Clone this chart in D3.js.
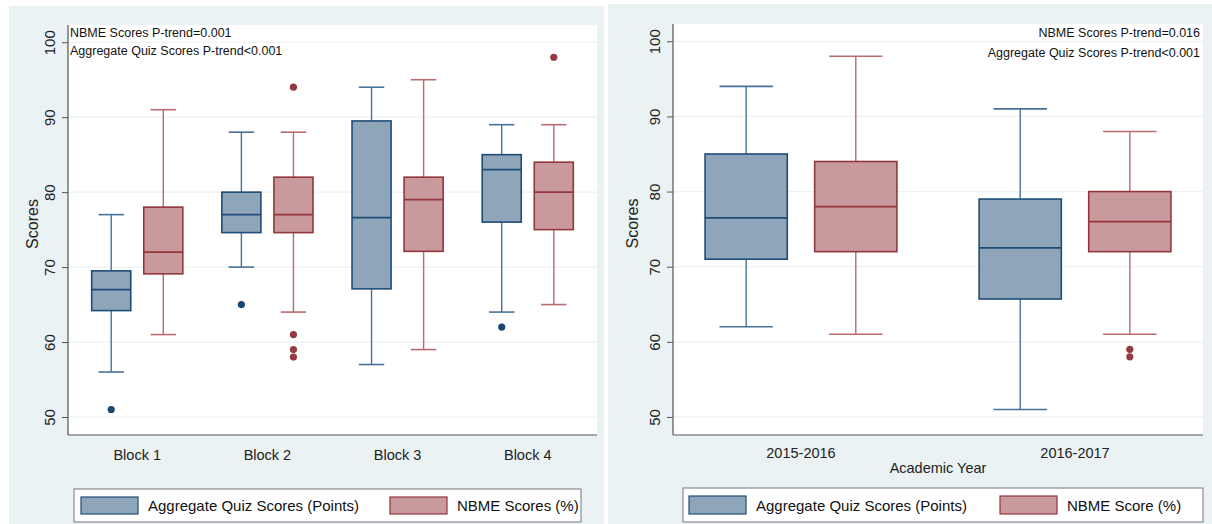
<!DOCTYPE html>
<html>
<head>
<meta charset="utf-8">
<script src="https://cdn.jsdelivr.net/npm/d3@7"></script>
<style>
  body { margin: 0; background: #ffffff; }
  svg { display: block; font-family: "Liberation Sans", Arial, sans-serif; }
</style>
</head>
<body>
<script>
// Box plot stats: [lower whisker, q1, median, q3, upper whisker]
var blocks = ["Block 1", "Block 2", "Block 3", "Block 4"];
var blockQuizStats = [[56, 64.2, 67, 69.5, 77], [70, 74.6, 77, 80, 88], [57, 67.1, 76.6, 89.5, 94], [64, 76, 83, 85, 89]];
var blockQuizOutliers = [[51], [65], [], [62]];
var blockNbmeStats = [[61, 69.1, 72, 78, 91], [64, 74.6, 77, 82, 88], [59, 72.1, 79, 82, 95], [65, 75, 80, 84, 89]];
var blockNbmeOutliers = [[], [94, 61, 59, 58], [], [98]];

var years = ["2015-2016", "2016-2017"];
var yearQuizStats = [[62, 71, 76.5, 85, 94], [51, 65.7, 72.5, 79, 91]];
var yearQuizOutliers = [[], []];
var yearNbmeStats = [[61, 72, 78, 84, 98], [61, 72, 76, 80, 88]];
var yearNbmeOutliers = [[], [59, 58]];

var yTicks = [50, 60, 70, 80, 90, 100];

var width = 1212, height = 524;
var bgColor = "#eaf2f3";
var blue = { fill: "#8ea5ba", stroke: "#1f4d78", whisker: "#49729a", dot: "#1a476f" };
var red = { fill: "#c99a9d", stroke: "#94363d", whisker: "#bb6a70", dot: "#953a40" };

var svg = d3.select("body").append("svg")
    .attr("width", width)
    .attr("height", height);

function drawPanel(p) {
  var g = svg.append("g");

  // panel background
  g.append("rect")
      .attr("x", p.bg[0]).attr("y", p.bg[1])
      .attr("width", p.bg[2]).attr("height", p.bg[3])
      .attr("fill", bgColor);

  // plot region
  g.append("rect")
      .attr("x", p.left).attr("y", p.top)
      .attr("width", p.right - p.left).attr("height", p.bottom - p.top)
      .attr("fill", "#ffffff");

  var y = d3.scaleLinear().domain([47.6, 102.3]).range([p.bottom, p.top]);
  var x = d3.scalePoint().domain(p.cats).range([p.left, p.right]).padding(p.pad);
  var step = x.step();
  var off = step * 0.2, bw = step * 0.3, cw = bw * 0.65;

  // grid lines
  g.selectAll(".grid").data(yTicks).enter().append("line")
      .attr("x1", p.left).attr("x2", p.right)
      .attr("y1", function(d) { return y(d); })
      .attr("y2", function(d) { return y(d); })
      .attr("stroke", bgColor).attr("stroke-width", 1.2);

  // y axis
  var yAxis = g.append("g")
      .attr("transform", "translate(" + p.left + ",0)")
      .call(d3.axisLeft(y).tickValues(yTicks).tickSize(6).tickPadding(7));
  yAxis.select(".domain").remove();
  yAxis.selectAll(".tick line").attr("stroke", "#555");
  yAxis.selectAll(".tick text")
      .attr("transform", "rotate(-90)")
      .attr("x", 0).attr("y", -13)
      .attr("dy", 0)
      .attr("text-anchor", "middle")
      .style("font-size", "15px")
      .style("font-family", "'Liberation Sans', Arial, sans-serif")
      .attr("fill", "#222");

  g.append("line")
      .attr("x1", p.left).attr("x2", p.left)
      .attr("y1", p.top).attr("y2", p.bottom)
      .attr("stroke", "#555").attr("stroke-width", 1.2);
  g.append("line")
      .attr("x1", p.left).attr("x2", p.right)
      .attr("y1", p.bottom).attr("y2", p.bottom)
      .attr("stroke", "#555").attr("stroke-width", 1.2);

  // y title
  g.append("text")
      .text("Scores")
      .attr("transform", "translate(" + p.titleX + "," + ((p.top + p.bottom) / 2 - 6) + ") rotate(-90)")
      .attr("text-anchor", "middle")
      .style("font-size", "16px")
      .attr("fill", "#222");

  // category labels
  g.selectAll(".cat").data(p.cats).enter().append("text")
      .text(function(d) { return d; })
      .attr("x", function(d) { return x(d); })
      .attr("y", p.catY)
      .attr("text-anchor", "middle")
      .style("font-size", "14.5px")
      .attr("fill", "#222");

  if (p.xTitle) {
    g.append("text")
        .text(p.xTitle)
        .attr("x", (p.left + p.right) / 2)
        .attr("y", p.catY + 15)
        .attr("text-anchor", "middle")
        .style("font-size", "14.5px")
        .attr("fill", "#222");
  }

  function boxes(stats, outliers, shift, c) {
    stats.forEach(function(s, i) {
      var cx = x(p.cats[i]) + shift;
      // whiskers
      g.append("line")
          .attr("x1", cx).attr("x2", cx)
          .attr("y1", y(s[3])).attr("y2", y(s[4]))
          .attr("stroke", c.whisker).attr("stroke-width", 1.4);
      g.append("line")
          .attr("x1", cx).attr("x2", cx)
          .attr("y1", y(s[1])).attr("y2", y(s[0]))
          .attr("stroke", c.whisker).attr("stroke-width", 1.4);
      [s[0], s[4]].forEach(function(v) {
        g.append("line")
            .attr("x1", cx - cw / 2).attr("x2", cx + cw / 2)
            .attr("y1", y(v)).attr("y2", y(v))
            .attr("stroke", c.whisker).attr("stroke-width", 1.6);
      });
      // box
      g.append("rect")
          .attr("x", cx - bw / 2).attr("y", y(s[3]))
          .attr("width", bw).attr("height", y(s[1]) - y(s[3]))
          .attr("fill", c.fill)
          .attr("stroke", c.stroke).attr("stroke-width", 1.6);
      g.append("line")
          .attr("x1", cx - bw / 2).attr("x2", cx + bw / 2)
          .attr("y1", y(s[2])).attr("y2", y(s[2]))
          .attr("stroke", c.stroke).attr("stroke-width", 1.6);
      // outside values
      outliers[i].forEach(function(v) {
        g.append("circle")
            .attr("cx", cx).attr("cy", y(v)).attr("r", 3.6)
            .attr("fill", c.dot);
      });
    });
  }
  boxes(p.quiz, p.quizOut, -off, blue);
  boxes(p.nbme, p.nbmeOut, off, red);

  // p-trend notes
  p.notes.forEach(function(t, i) {
    g.append("text")
        .text(t)
        .attr("x", p.noteX)
        .attr("y", p.noteY[i])
        .attr("text-anchor", p.noteAnchor)
        .style("font-size", "12.5px")
        .attr("fill", "#111");
  });

  // legend
  var lg = g.append("g");
  lg.append("rect")
      .attr("x", p.legend[0]).attr("y", p.legend[1])
      .attr("width", p.legend[2]).attr("height", p.legend[3])
      .attr("fill", "#fff").attr("stroke", "#777").attr("stroke-width", 1);
  var keyY = p.legend[1] + 8, keyH = p.legend[3] - 16;
  p.keys.forEach(function(k, i) {
    var c = i === 0 ? blue : red;
    lg.append("rect")
        .attr("x", k[0]).attr("y", keyY)
        .attr("width", 57).attr("height", keyH)
        .attr("fill", c.fill).attr("stroke", c.stroke).attr("stroke-width", 1.2);
    lg.append("text")
        .text(k[1])
        .attr("x", k[0] + 67).attr("y", keyY + keyH / 2 + 5.5)
        .style("font-size", "15px")
        .attr("fill", "#111");
  });
}

drawPanel({
  bg: [9, 6, 595, 518],
  left: 68, right: 597, top: 25, bottom: 435,
  cats: blocks, pad: 0.532,
  quiz: blockQuizStats, quizOut: blockQuizOutliers,
  nbme: blockNbmeStats, nbmeOut: blockNbmeOutliers,
  titleX: 38, catY: 460, xTitle: null,
  notes: ["NBME Scores P-trend=0.001", "Aggregate Quiz Scores P-trend<0.001"],
  noteX: 70, noteY: [37, 55], noteAnchor: "start",
  legend: [74, 489, 507, 33],
  keys: [[81, "Aggregate Quiz Scores (Points)"], [390, "NBME Scores (%)"]]
});

drawPanel({
  bg: [608, 4, 604, 520],
  left: 673, right: 1203, top: 24, bottom: 435,
  cats: years, pad: 0.467,
  quiz: yearQuizStats, quizOut: yearQuizOutliers,
  nbme: yearNbmeStats, nbmeOut: yearNbmeOutliers,
  titleX: 638, catY: 458, xTitle: "Academic Year",
  notes: ["NBME Scores P-trend=0.016", "Aggregate Quiz Scores P-trend<0.001"],
  noteX: 1200, noteY: [37, 57], noteAnchor: "end",
  legend: [683, 488, 520, 34],
  keys: [[689, "Aggregate Quiz Scores (Points)"], [1000, "NBME Score (%)"]]
});
</script>
</body>
</html>
